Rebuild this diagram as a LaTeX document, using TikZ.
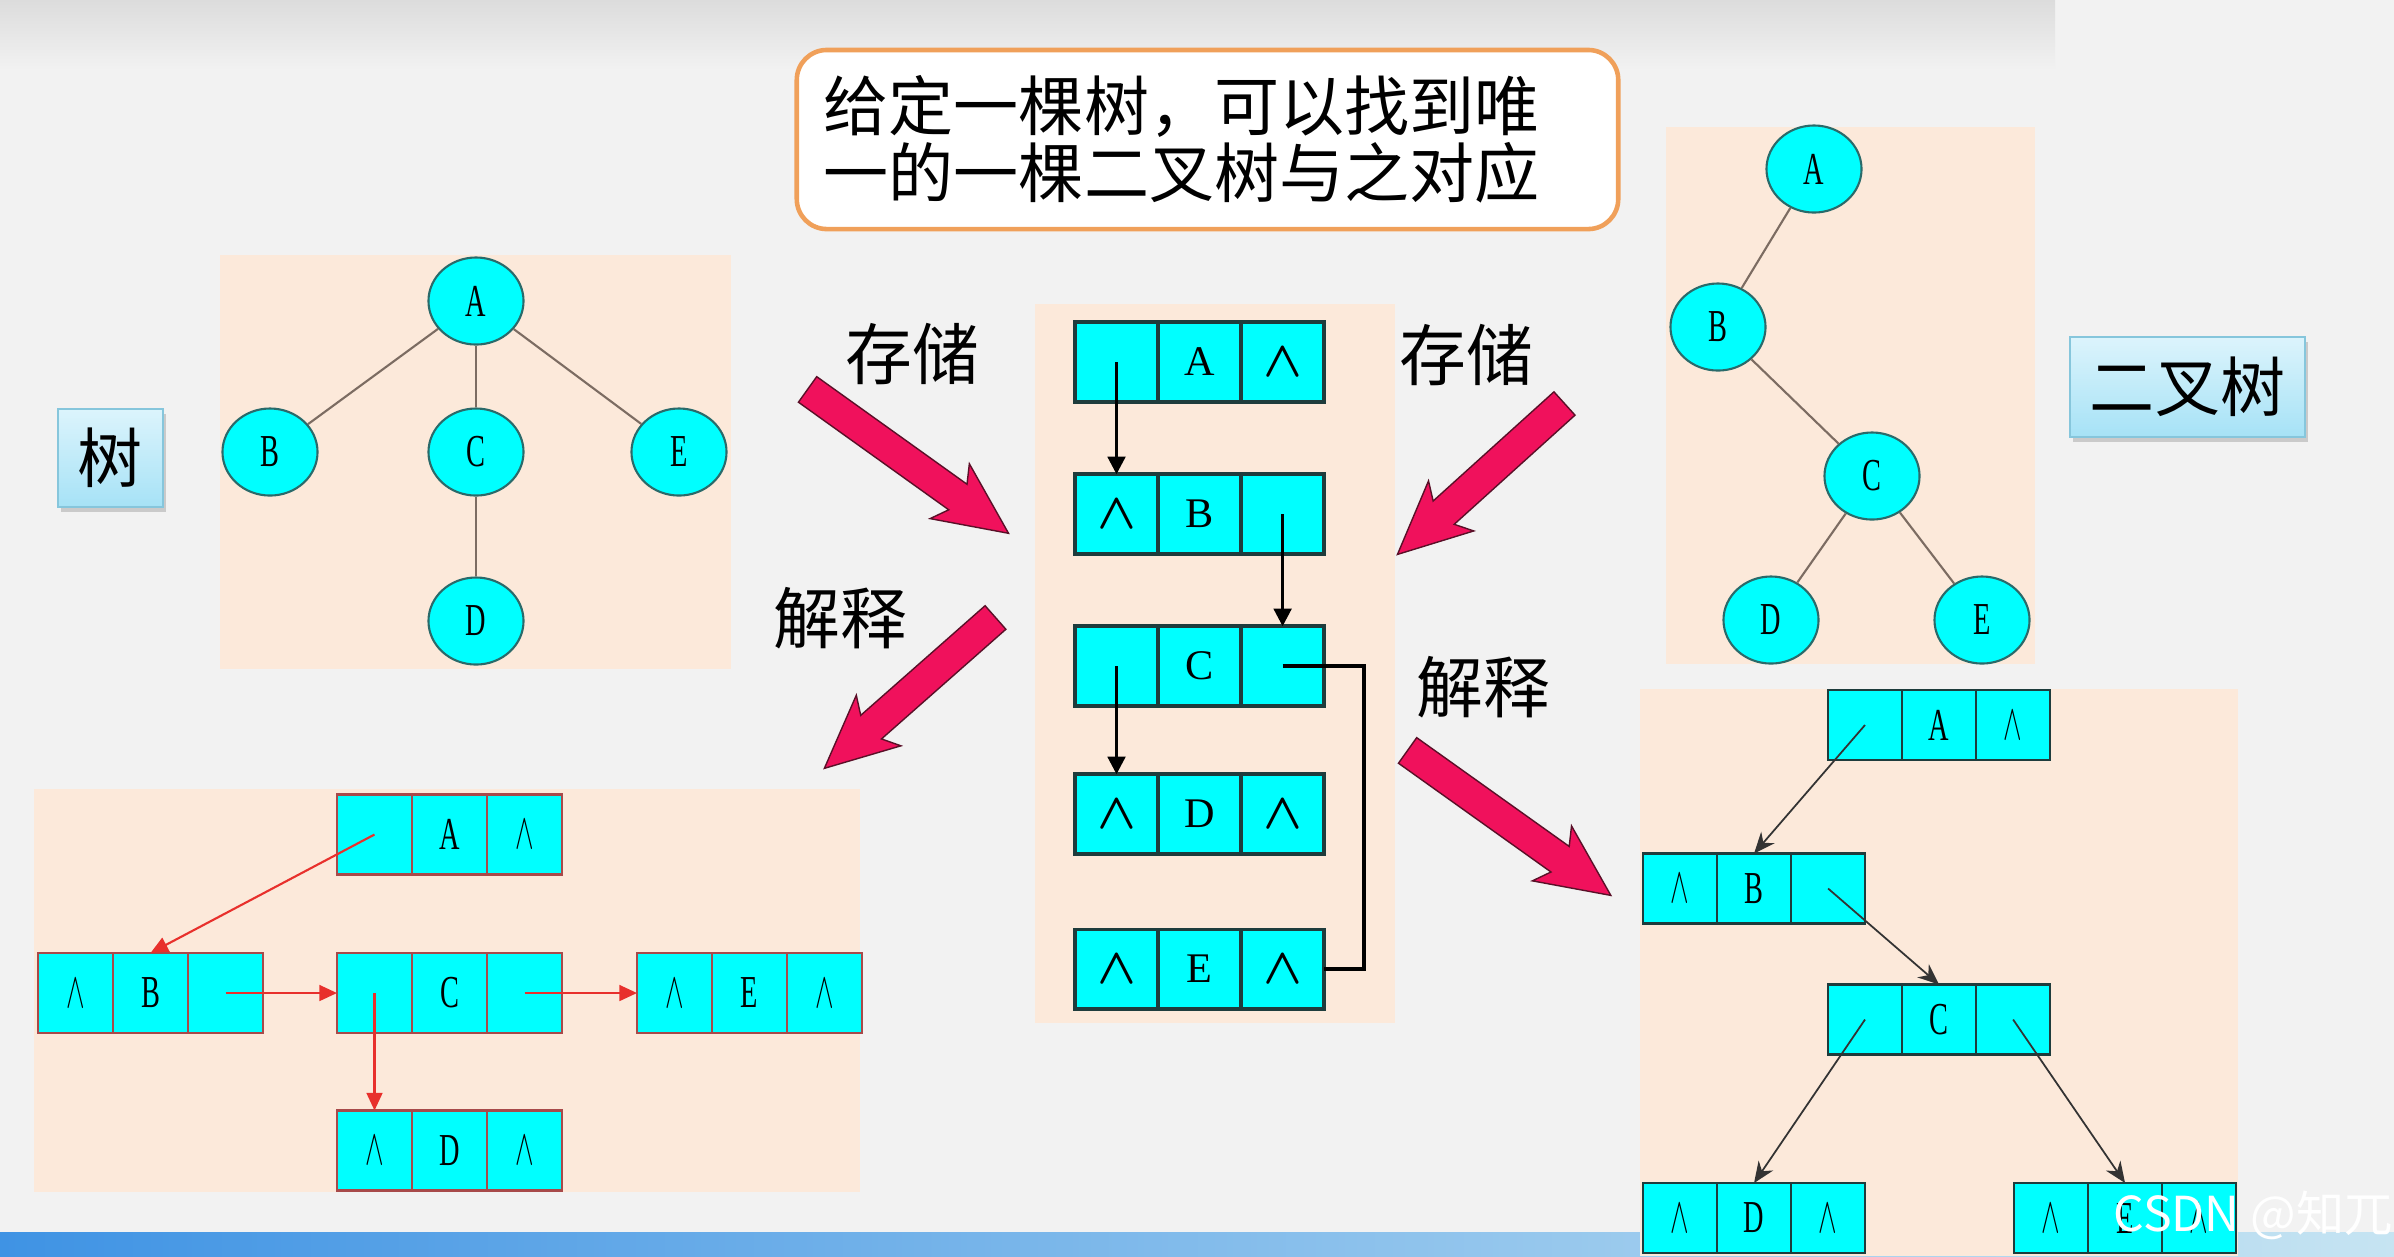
\documentclass[tikz,border=0pt]{standalone}
\usepackage{fontspec}
\setmainfont{Liberation Serif}
\newfontfamily\cjkfont{Noto Sans CJK SC}
\newfontfamily\narrowserif[FakeStretch=0.62]{Liberation Serif}
\usetikzlibrary{arrows.meta, positioning, shapes.geometric, shapes.arrows, shadows}
\definecolor{SlideGray}{HTML}{F2F2F2}
\definecolor{TopGray}{HTML}{DCDCDC}
\definecolor{PanelPeach}{HTML}{FCE9DA}
\definecolor{NodeCyan}{HTML}{00FFFF}
\definecolor{NodeEdge}{HTML}{2A6A6A}
\definecolor{TreeEdge}{HTML}{7C6C62}
\definecolor{CellEdge}{HTML}{1E3C3C}
\definecolor{CellRed}{HTML}{A84A4A}
\definecolor{LinkRed}{HTML}{E8302C}
\definecolor{ArrowPink}{HTML}{F0115C}
\definecolor{ArrowDark}{HTML}{5A1028}
\definecolor{NoteOrange}{HTML}{F0A05A}
\definecolor{LabelTop}{HTML}{DCF4FC}
\definecolor{LabelBottom}{HTML}{A6E2F6}
\definecolor{LabelEdge}{HTML}{86C6DC}
\definecolor{BarBlue}{HTML}{3F93E4}
\definecolor{BarLight}{HTML}{C6E4F2}
\newcommand{\wdg}{{\fontsize{14.5}{14.5}\selectfont\boldmath$\wedge$}}
\newcommand{\twdg}{{\fontsize{15.5}{15.5}\selectfont\scalebox{0.55}[1]{$\wedge$}}}
% one record = three cells side by side
\newcommand{\recnode}[6]{%
  \node[#6] (#1-l) at (#2) {#3};
  \node[#6, right=0pt of #1-l] (#1-d) {#4};
  \node[#6, right=0pt of #1-d] (#1-r) {#5};
}

\begin{document}
\begin{tikzpicture}[x=0.01cm, y=-0.01cm,
    panel/.style={fill=PanelPeach, draw=none},
    tnode/.style={ellipse, draw=NodeEdge, fill=NodeCyan, line width=0.6pt, minimum width=0.95cm, minimum height=0.87cm, inner sep=0pt, font=\narrowserif\fontsize{13}{13}\selectfont},
    treeline/.style={draw=TreeEdge, line width=0.6pt},
    cellbase/.style={rectangle, fill=NodeCyan, outer sep=0pt, inner sep=0pt},
    mcell/.style={cellbase, draw=CellEdge, line width=1pt, minimum width=0.83cm, minimum height=0.795cm, font=\fontsize{12}{12}\selectfont},
    lcell/.style={cellbase, draw=CellRed, line width=0.7pt, minimum width=0.75cm, minimum height=0.8cm, font=\narrowserif\fontsize{13}{13}\selectfont},
    rcell/.style={cellbase, draw=CellEdge, line width=0.7pt, minimum width=0.74cm, minimum height=0.7cm, font=\narrowserif\fontsize{13}{13}\selectfont},
    ptr/.style={draw=black, line width=0.9pt, -{Triangle[length=5pt, width=5pt]}},
    redptr/.style={draw=LinkRed, line width=0.6pt, -{Triangle[length=5pt, width=4.5pt]}},
    thinptr/.style={draw=black!80, line width=0.5pt, -{Stealth[length=6pt, width=5pt]}},
    bigarrow/.style={single arrow, draw=ArrowDark, fill=ArrowPink, line width=0.4pt, inner xsep=0pt, inner ysep=0.15cm, single arrow head extend=0.18cm, single arrow tip angle=50, single arrow head indent=0.1cm, anchor=tail},
    actlabel/.style={font=\cjkfont\fontsize{19}{19}\selectfont},
    tag/.style={draw=LabelEdge, top color=LabelTop, bottom color=LabelBottom, drop shadow={shadow xshift=0.03cm, shadow yshift=-0.05cm, opacity=0.35}, font=\cjkfont\fontsize{18.5}{18.5}\selectfont, inner sep=0pt},
    note/.style={draw=NoteOrange, fill=white, line width=1.3pt, rounded corners=0.3cm, align=left, text width=7.67cm, inner xsep=0.27cm, minimum height=1.79cm, font=\cjkfont\fontsize{18.5}{19.1}\selectfont}
  ]
  \useasboundingbox (0,0) rectangle (2394,1256);
  \fill[SlideGray] (0,0) rectangle (2394,1256);
  \shade[top color=TopGray, bottom color=SlideGray] (0,0) rectangle (2055,70);
  \shade[left color=BarBlue, right color=BarLight] (0,1232) rectangle (2394,1256);

  % panels
  \fill[panel] (220,255) rectangle (731,669);
  \fill[panel] (1035,304) rectangle (1395,1023);
  \fill[panel] (1666,127) rectangle (2035,664);
  \fill[panel] (34,789) rectangle (860,1192);
  \fill[panel] (1640,689) rectangle (2238,1256);

  \node[note] (claim) at (1207.5,139.5) {给定一棵树，可以找到唯\\一的一棵二叉树与之对应};

  % tree
  \node[tnode] (tA) at (476,301) {A};
  \node[tnode] (tB) at (270,452) {B};
  \node[tnode] (tC) at (476,452) {C};
  \node[tnode] (tE) at (679,452) {E};
  \node[tnode] (tD) at (476,621) {D};
  \draw[treeline] (tA) -- (tB);
  \draw[treeline] (tA) -- (tC);
  \draw[treeline] (tA) -- (tE);
  \draw[treeline] (tC) -- (tD);

  % binary tree
  \node[tnode] (bA) at (1814,169) {A};
  \node[tnode] (bB) at (1718,327) {B};
  \node[tnode] (bC) at (1872,476) {C};
  \node[tnode] (bD) at (1771,620) {D};
  \node[tnode] (bE) at (1982,620) {E};
  \draw[treeline] (bA) -- (bB);
  \draw[treeline] (bB) -- (bC);
  \draw[treeline] (bC) -- (bD);
  \draw[treeline] (bC) -- (bE);

  % child-sibling storage
  \recnode{m1}{1116.5,362}{}{A}{\wdg}{mcell}
  \recnode{m2}{1116.5,514}{\wdg}{B}{}{mcell}
  \recnode{m3}{1116.5,666}{}{C}{}{mcell}
  \recnode{m4}{1116.5,814}{\wdg}{D}{\wdg}{mcell}
  \recnode{m5}{1116.5,969}{\wdg}{E}{\wdg}{mcell}
  \draw[ptr] (m1-l.center) -- (m2-l.north);
  \draw[ptr] (m2-r.center) -- (m3-r.north);
  \draw[ptr] (m3-l.center) -- (m4-l.north);
  \coordinate (mbend) at (1364,969);
  \draw[line width=0.9pt] (m3-r.center) -| (mbend) -- (m5-r.east);

  % read as tree
  \recnode{lA}{374.5,834.5}{}{A}{\twdg}{lcell}
  \recnode{lB}{75.5,993}{\twdg}{B}{}{lcell}
  \recnode{lC}{374.5,993}{}{C}{}{lcell}
  \recnode{lE}{674.5,993}{\twdg}{E}{\twdg}{lcell}
  \recnode{lD}{374.5,1150.5}{\twdg}{D}{\twdg}{lcell}
  \draw[redptr] (lA-l.center) -- (lB-d.north);
  \draw[redptr] (lB-r.center) -- (lC-l.west);
  \draw[redptr] (lC-r.center) -- (lE-l.west);
  \draw[redptr] (lC-l.center) -- (lD-l.north);

  % read as binary tree
  \recnode{rA}{1865,725}{}{A}{\twdg}{rcell}
  \recnode{rB}{1680,888.5}{\twdg}{B}{}{rcell}
  \recnode{rC}{1865,1019.5}{}{C}{}{rcell}
  \recnode{rD}{1680,1218}{\twdg}{D}{\twdg}{rcell}
  \recnode{rE}{2051,1218}{\twdg}{E}{\twdg}{rcell}
  \draw[thinptr] (rA-l.center) -- (rB-d.north);
  \draw[thinptr] (rB-r.center) -- (rC-d.north);
  \draw[thinptr] (rC-l.center) -- (rD-d.north);
  \draw[thinptr] (rC-r.center) -- (rE-d.north);

  % big arrows
  \node[bigarrow, rotate=-35.6, minimum height=2.47cm] (storeL) at (807,389) {};
  \node[bigarrow, rotate=-138.6, minimum height=2.28cm] (readL) at (996,617) {};
  \node[bigarrow, rotate=-137.9, minimum height=2.25cm] (storeR) at (1565,403) {};
  \node[bigarrow, rotate=-35.5, minimum height=2.495cm] (readR) at (1407,750) {};
  \node[actlabel] (storeLtxt) at (912,354) {存储};
  \node[actlabel] (readLtxt) at (840,618) {解释};
  \node[actlabel] (storeRtxt) at (1466,355) {存储};
  \node[actlabel] (readRtxt) at (1483,687) {解释};

  \node[tag, minimum width=1.05cm, minimum height=0.98cm] (treetag) at (110.5,458) {树};
  \node[tag, minimum width=2.35cm, minimum height=1cm] (bintag) at (2187.5,387) {二叉树};

  \node[font=\cjkfont\fontsize{13.7}{13.7}\selectfont, text=white] (mark) at (2253,1215) {CSDN @知兀};
\end{tikzpicture}
\end{document}
